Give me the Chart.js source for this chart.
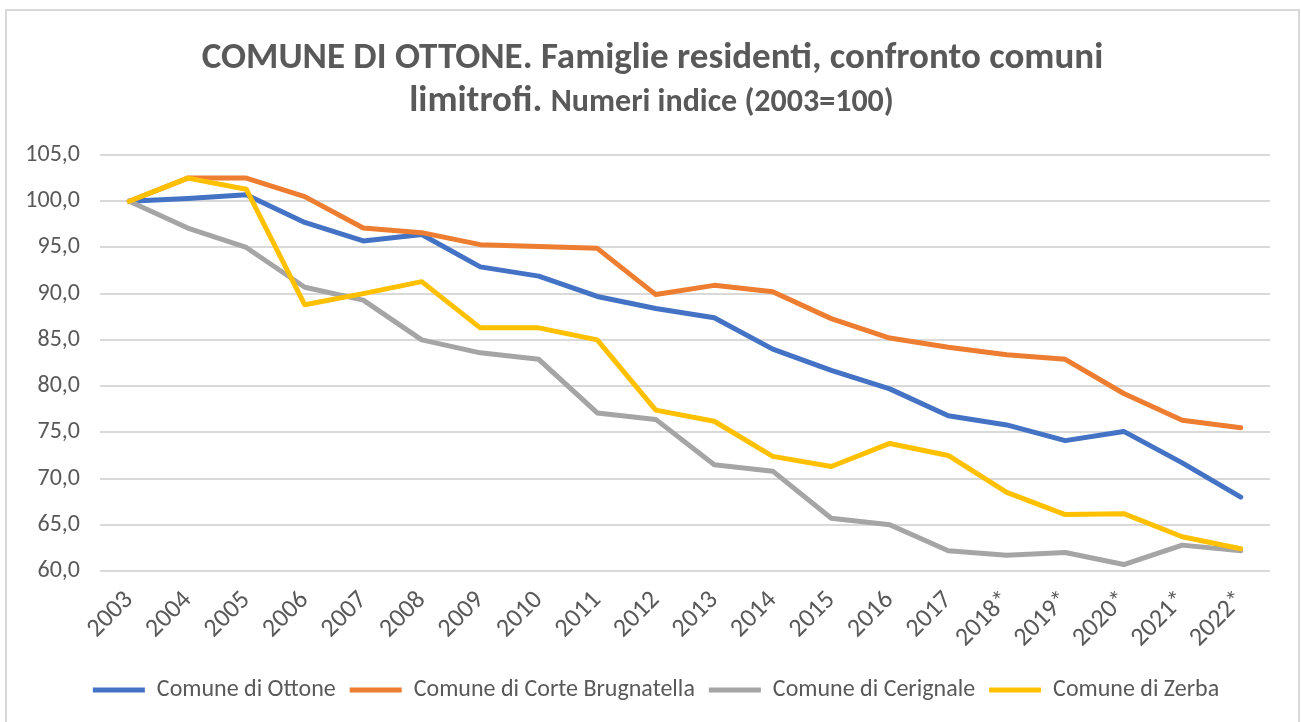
<!DOCTYPE html>
<html lang="it">
<head>
    <meta charset="UTF-8">
    <title>Famiglie residenti - Ottone</title>
    <style>
        body {
            margin: 0;
            padding: 0;
            background: #fff;
            overflow: hidden;
        }
        .frame {
            position: absolute;
            left: 5px;
            top: 9px;
            width: 1291px;
            height: 730px;
            border: 2px solid #d9d9d9;
            pointer-events: none;
        }
        .chart-box {
            position: absolute;
            left: 0;
            top: 0;
            width: 1301px;
            height: 722px;
        }
    </style>
    <script src="https://cdn.jsdelivr.net/npm/chart.js"></script>
</head>
<body>
    <div class="chart-box"><canvas id="chart"></canvas></div>
    <div class="frame"></div>

    <script>
        // dati
        const anni = ['2003', '2004', '2005', '2006', '2007', '2008', '2009', '2010', '2011', '2012',
            '2013', '2014', '2015', '2016', '2017', '2018*', '2019*', '2020*', '2021*', '2022*'];
        const ottone = [100, 100.3, 100.7, 97.7, 95.7, 96.4, 92.9, 91.9, 89.7, 88.4,
            87.4, 84.0, 81.7, 79.7, 76.8, 75.8, 74.1, 75.1, 71.7, 68.0];
        const corteBrugnatella = [100, 102.5, 102.5, 100.5, 97.1, 96.6, 95.3, 95.1, 94.9, 89.9,
            90.9, 90.2, 87.3, 85.2, 84.2, 83.4, 82.9, 79.2, 76.3, 75.5];
        const cerignale = [100, 97.1, 95.0, 90.7, 89.3, 85.0, 83.6, 82.9, 77.1, 76.4,
            71.5, 70.8, 65.7, 65.0, 62.2, 61.7, 62.0, 60.7, 62.8, 62.2];
        const zerba = [100, 102.5, 101.3, 88.8, 90.0, 91.3, 86.3, 86.3, 85.0, 77.4,
            76.2, 72.4, 71.3, 73.8, 72.5, 68.5, 66.1, 66.2, 63.7, 62.4];

        const FONT = "Carlito, Lato, 'Liberation Sans', sans-serif";
        const GRIGIO = '#595959';

        // titolo con due grandezze di carattere sulla seconda riga
        const titoloPlugin = {
            id: 'titolo',
            beforeDraw(chart) {
                // la legenda è centrata un po' più a destra, come nell'originale
                if (chart.legend) chart.legend.left = 42;
            },
            afterDraw(chart) {
                const ctx = chart.ctx;
                const cx = chart.width / 2;
                ctx.save();
                ctx.fillStyle = GRIGIO;
                ctx.textBaseline = 'alphabetic';
                ctx.textAlign = 'left';

                ctx.font = 'bold 37px ' + FONT;
                const riga1 = 'COMUNE DI OTTONE. Famiglie residenti, confronto comuni';
                const w1 = ctx.measureText(riga1).width;
                ctx.fillText(riga1, cx - w1 / 2 + 2, 68);

                const a = 'limitrofi. ';
                const b = 'Numeri indice (2003=100)';
                ctx.font = 'bold 37px ' + FONT;
                const wa = ctx.measureText(a).width;
                ctx.font = 'bold 32px ' + FONT;
                const wb = ctx.measureText(b).width;
                let x = cx - (wa + wb) / 2 + 1;
                ctx.font = 'bold 37px ' + FONT;
                ctx.fillText(a, x, 111);
                ctx.font = 'bold 32px ' + FONT;
                ctx.fillText(b, x + wa, 111);
                ctx.restore();
            }
        };

        function serie(label, data, colore, ordine) {
            return {
                label: label,
                data: data,
                borderColor: colore,
                backgroundColor: colore,
                borderWidth: 5,
                borderCapStyle: 'round',
                borderJoinStyle: 'round',
                pointRadius: 0,
                pointHoverRadius: 0,
                tension: 0,
                fill: false,
                order: ordine
            };
        }

        new Chart(document.getElementById('chart'), {
            type: 'line',
            data: {
                labels: anni,
                datasets: [
                    serie('Comune di Ottone', ottone, '#4472C4', 3),
                    serie('Comune di Corte Brugnatella', corteBrugnatella, '#ED7D31', 2),
                    serie('Comune di Cerignale', cerignale, '#A5A5A5', 1),
                    serie('Comune di Zerba', zerba, '#FFC000', 0)
                ]
            },
            plugins: [titoloPlugin],
            options: {
                responsive: true,
                maintainAspectRatio: false,
                animation: false,
                layout: {
                    padding: { top: 155, right: 31, bottom: 10, left: 0 }
                },
                plugins: {
                    tooltip: { enabled: false },
                    title: { display: false },
                    legend: {
                        position: 'bottom',
                        labels: {
                            boxWidth: 52,
                            boxHeight: 5,
                            padding: 14,
                            color: GRIGIO,
                            font: { family: FONT, size: 24 },
                            sort: (a, b) => a.datasetIndex - b.datasetIndex,
                            generateLabels: chart =>
                                Chart.defaults.plugins.legend.labels.generateLabels(chart)
                                    .map(l => Object.assign(l, { lineWidth: 0 }))
                        }
                    }
                },
                scales: {
                    x: {
                        offset: true,
                        grid: { display: false },
                        border: { display: false },
                        ticks: {
                            color: GRIGIO,
                            font: { family: FONT, size: 26 },
                            minRotation: 45,
                            maxRotation: 45,
                            autoSkip: false,
                            padding: 6
                        },
                        afterFit(scale) { scale.height = 93; }
                    },
                    y: {
                        min: 60,
                        max: 105,
                        grid: { color: '#d9d9d9', lineWidth: 2, drawTicks: false },
                        border: { display: false },
                        ticks: {
                            stepSize: 5,
                            color: GRIGIO,
                            font: { family: FONT, size: 24 },
                            padding: 20,
                            callback: v => v.toFixed(1).replace('.', ',')
                        },
                        afterFit(scale) { scale.width = 100; }
                    }
                }
            }
        });
    </script>
</body>
</html>
